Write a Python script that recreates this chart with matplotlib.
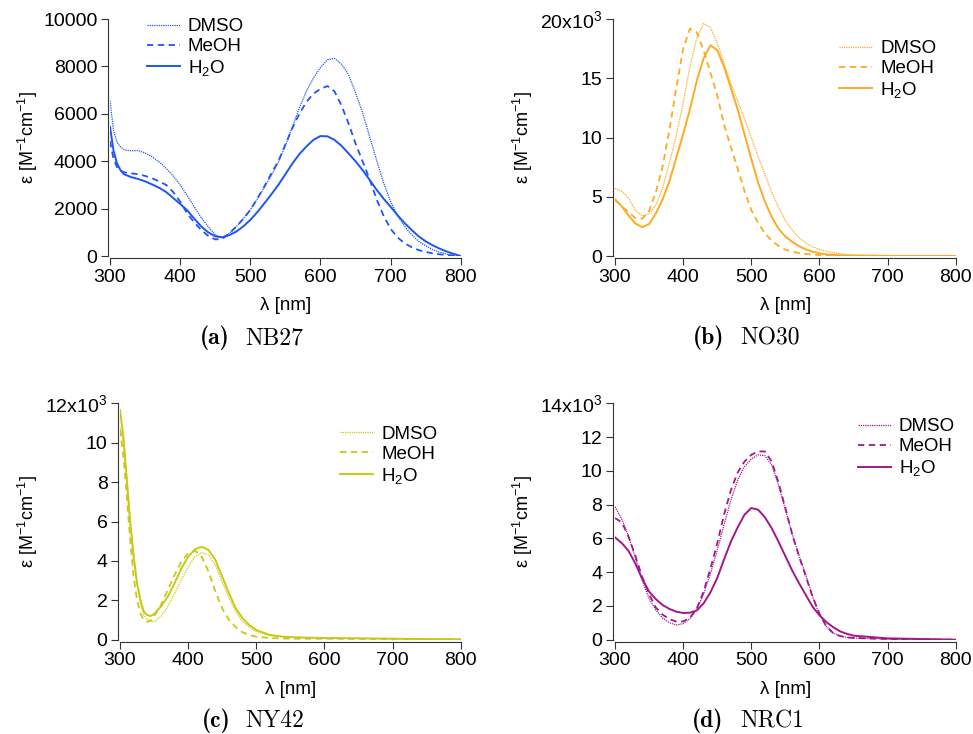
import matplotlib
matplotlib.use('Agg')
import matplotlib.pyplot as plt
from matplotlib.ticker import FuncFormatter

plt.rcParams['font.family'] = ['Liberation Sans', 'DejaVu Sans']
plt.rcParams['mathtext.fontset'] = 'custom'
plt.rcParams['mathtext.rm'] = 'Liberation Sans'
plt.rcParams['mathtext.it'] = 'Liberation Sans:italic'
plt.rcParams['mathtext.bf'] = 'Liberation Sans:bold'

solvents = ['DMSO', 'MeOH', 'H$_2$O']

# (a) NB27, epsilon in M^-1 cm^-1
wl_a = [300, 305, 310, 315, 320] + list(range(330, 810, 10))
nb27_dmso = [6550, 5300, 4800, 4600, 4480,
             4440, 4450, 4350, 4190, 3970, 3700, 3380, 3000, 2550, 2080,
             1620, 1240, 900, 760, 950, 1240, 1580, 1950, 2400, 2900,
             3400, 3950, 4650, 5450, 6250, 6950, 7500, 7950, 8280, 8340,
             8100, 7650, 6900, 6050, 5050, 4050, 3100, 2300, 1700, 1250,
             900, 620, 430, 270, 160, 80, 30, 0]
nb27_meoh = [4850, 4100, 3750, 3600, 3530,
             3490, 3450, 3380, 3280, 3150, 3000, 2700, 2300, 1800, 1420,
             1100, 850, 700, 720, 950, 1240, 1560, 1940, 2420, 2930,
             3480, 4000, 4700, 5400, 6000, 6500, 6850, 7050, 7170, 6950,
             6350, 5600, 4750, 4000, 3250, 2400, 1700, 1150, 780, 540,
             370, 250, 170, 110, 70, 40, 20, 0]
nb27_h2o = [5450, 4450, 3900, 3620, 3450,
            3330, 3250, 3150, 3020, 2880, 2700, 2450, 2200, 1930, 1580,
            1250, 1000, 830, 790, 880, 1030, 1250, 1520, 1850, 2220,
            2600, 3000, 3450, 3900, 4300, 4620, 4900, 5060, 5050, 4900,
            4650, 4330, 4000, 3630, 3220, 2800, 2420, 2080, 1720, 1390,
            1100, 830, 620, 450, 310, 190, 90, 0]

# (b) NO30, x10^3
wl_b = list(range(300, 660, 10)) + [700, 750, 800]
no30_dmso = [5.72, 5.45, 4.9, 3.85, 3.4, 3.55, 4.3, 5.75, 7.9, 10.2,
             12.9, 16.0, 18.4, 19.65, 19.3, 18.0, 16.3, 14.6, 13.1, 11.6,
             10.0, 8.4, 6.9, 5.4, 4.1, 3.0, 2.2, 1.55, 1.1, 0.78,
             0.56, 0.4, 0.28, 0.19, 0.12, 0.08, 0.03, 0.01, 0.0]
no30_meoh = [4.74, 4.2, 3.7, 3.2, 3.15, 3.8, 5.4, 7.6, 10.7, 14.2,
             17.5, 19.2, 18.9, 17.4, 15.5, 13.6, 11.1, 9.2, 7.4, 5.5,
             3.9, 2.8, 1.9, 1.3, 0.85, 0.53, 0.36, 0.25, 0.17, 0.12,
             0.08, 0.06, 0.04, 0.03, 0.02, 0.02, 0.01, 0.0, 0.0]
no30_h2o = [4.8, 4.2, 3.4, 2.75, 2.43, 2.7, 3.6, 4.8, 6.35, 8.3,
            10.3, 12.4, 14.8, 16.7, 17.8, 17.4, 16.0, 14.2, 12.4, 10.3,
            8.2, 6.2, 4.6, 3.3, 2.3, 1.65, 1.2, 0.82, 0.56, 0.37,
            0.23, 0.14, 0.09, 0.06, 0.04, 0.03, 0.01, 0.0, 0.0]

# (c) NY42, x10^3
wl_c = [300, 305, 310, 315, 320, 325, 330, 335, 340, 345, 350] + \
       list(range(360, 510, 10)) + [520, 540, 560, 600, 650, 700, 750, 800]
ny42_dmso = [10.8, 9.97, 8.28, 6.25, 4.38, 2.86, 1.84, 1.25, 1.03, 0.95, 0.91,
             1.17, 1.68, 2.35, 3.03, 3.71, 4.21, 4.43, 4.3, 3.79, 2.94,
             2.1, 1.42, 0.91, 0.63, 0.41,
             0.2, 0.14, 0.11, 0.085, 0.07, 0.05, 0.03, 0.02]
ny42_meoh = [10.65, 9.3, 7.26, 5.06, 3.2, 2.01, 1.34, 1.0, 0.91, 0.96, 1.17,
             1.76, 2.52, 3.28, 3.96, 4.38, 4.52, 4.21, 3.45, 2.44, 1.59,
             1.0, 0.63, 0.37, 0.24, 0.15,
             0.085, 0.06, 0.05, 0.05, 0.04, 0.03, 0.02, 0.01]
ny42_h2o = [11.66, 10.3, 8.1, 5.9, 4.21, 2.86, 2.01, 1.42, 1.25, 1.2, 1.3,
            1.68, 2.18, 2.86, 3.62, 4.21, 4.59, 4.72, 4.55, 4.05, 3.2,
            2.35, 1.59, 1.08, 0.74, 0.49,
            0.24, 0.15, 0.12, 0.085, 0.07, 0.05, 0.03, 0.02]

# (d) NRC1, x10^3
wl_d = list(range(300, 660, 10)) + [700, 750, 800]
nrc1_dmso = [7.87, 7.15, 6.1, 4.85, 3.5, 2.45, 1.75, 1.28, 1.0, 0.87,
             0.95, 1.25, 1.8, 2.7, 3.9, 5.3, 6.8, 8.25, 9.45, 10.25,
             10.7, 10.95, 10.9, 10.35, 9.15, 7.7, 6.25, 5.0, 3.85, 2.55,
             1.5, 0.8, 0.4, 0.22, 0.14, 0.1, 0.04, 0.02, 0.0]
nrc1_meoh = [7.2, 6.95, 6.1, 4.95, 3.7, 2.7, 1.9, 1.48, 1.22, 1.07,
             1.08, 1.3, 1.85, 2.85, 4.2, 5.7, 7.4, 8.85, 9.9, 10.55,
             10.95, 11.15, 11.15, 10.55, 9.3, 7.8, 6.25, 4.95, 3.75, 2.54,
             1.55, 0.8, 0.4, 0.22, 0.14, 0.1, 0.04, 0.02, 0.0]
nrc1_h2o = [6.06, 5.72, 5.25, 4.5, 3.6, 2.85, 2.4, 2.05, 1.82, 1.66,
            1.58, 1.6, 1.73, 2.15, 2.8, 3.65, 4.75, 5.8, 6.65, 7.4,
            7.8, 7.7, 7.25, 6.6, 5.8, 4.95, 4.1, 3.35, 2.65, 1.95,
            1.45, 1.05, 0.75, 0.5, 0.35, 0.24, 0.08, 0.04, 0.0]

xticks = [300, 400, 500, 600, 700, 800]

W, H = 973, 734
fig = plt.figure(figsize=(W / 100, H / 100), dpi=100)

def px(x0, x1, y0, y1):
    # pixel box -> figure fraction rect
    return [x0 / W, 1 - y0 / H, (x1 - x0) / W, (y0 - y1) / H]

panels = [
    dict(letter='(a)', name='NB27', color='#1f55f2', wl=wl_a,
         series=[nb27_dmso, nb27_meoh, nb27_h2o], ymax=10000, ystep=2000, sci=False,
         rect=px(110, 460.7, 256, 19), leg=(146.7, 18), ylab_x=28, xlab_y=297,
         cap=(200, 245, 338)),
    dict(letter='(b)', name='NO30', color='#fdab22', wl=wl_b,
         series=[no30_dmso, no30_meoh, no30_h2o], ymax=20, ystep=5, sci=True,
         rect=px(615, 955.7, 256, 19.3), leg=(839, 40), ylab_x=523, xlab_y=297,
         cap=(693, 740, 338)),
    dict(letter='(c)', name='NY42', color='#c9c915', wl=wl_c,
         series=[ny42_dmso, ny42_meoh, ny42_h2o], ymax=12, ystep=2, sci=True,
         rect=px(120, 460.7, 639.7, 403.3), leg=(340, 425.7), ylab_x=28, xlab_y=681,
         cap=(201.7, 245, 721)),
    dict(letter='(d)', name='NRC1', color='#a3178c', wl=wl_d,
         series=[nrc1_dmso, nrc1_meoh, nrc1_h2o], ymax=14, ystep=2, sci=True,
         rect=px(615, 955.7, 639.7, 403.3), leg=(857.7, 418.3), ylab_x=523, xlab_y=681,
         cap=(692, 740, 721)),
]

line_styles = [(0, (1, 0.8)), (0, (3.5, 2.5)), '-']
line_widths = [0.9, 1.3, 1.4]

for p in panels:
    ax = fig.add_axes(p['rect'])
    for vals, lab, ls, lw in zip(p['series'], solvents, line_styles, line_widths):
        ax.plot(p['wl'], vals, color=p['color'], linestyle=ls, linewidth=lw,
                label=lab, solid_joinstyle='round', dash_joinstyle='round')
    ax.set_xlim(300, 800)
    ax.set_ylim(0, p['ymax'])
    ax.set_xticks(xticks)
    ax.set_yticks(list(range(0, p['ymax'] + 1, p['ystep'])))
    if p['sci']:
        top = p['ymax']
        ax.yaxis.set_major_formatter(FuncFormatter(
            lambda v, pos, top=top: f'{int(v)}x10$^3$' if int(round(v)) == top else f'{int(v)}'))
    for s in ['top', 'right']:
        ax.spines[s].set_visible(False)
    for s in ['left', 'bottom']:
        ax.spines[s].set_color('#333333')
        ax.spines[s].set_linewidth(0.8)
        ax.spines[s].set_position(('outward', 1.5))
    ax.tick_params(direction='out', length=5, width=0.8, color='#333333',
                   labelsize=14, pad=2.5)

    x0 = p['rect'][0] * W
    y_zero = (1 - p['rect'][1]) * H
    ax_w = p['rect'][2] * W
    ax_h = p['rect'][3] * H
    ax.set_xlabel('λ [nm]', fontsize=13.5)
    ax.xaxis.set_label_coords(0.5, -(p['xlab_y'] - y_zero) / ax_h)
    ax.set_ylabel('ε [M$^{-1}$cm$^{-1}$]', fontsize=13)
    ax.yaxis.set_label_coords((p['ylab_x'] - x0) / ax_w, 0.5)
    ax.yaxis.label.set_va('center')

    ax.legend(loc='upper left', bbox_to_anchor=(p['leg'][0] / W, 1 - p['leg'][1] / H),
              bbox_transform=fig.transFigure, frameon=False, fontsize=13.5,
              handlelength=1.75, handletextpad=0.45, labelspacing=0.15,
              borderpad=0, borderaxespad=0)

    cx_l, cx_n, cy = p['cap']
    fig.text(cx_l / W, 1 - cy / H, p['letter'], family='cmb10', fontsize=17,
             ha='left', va='center')
    fig.text(cx_n / W, 1 - cy / H, p['name'], family='cmr10', fontsize=17,
             ha='left', va='center')

fig.savefig('out.png', dpi=100)
